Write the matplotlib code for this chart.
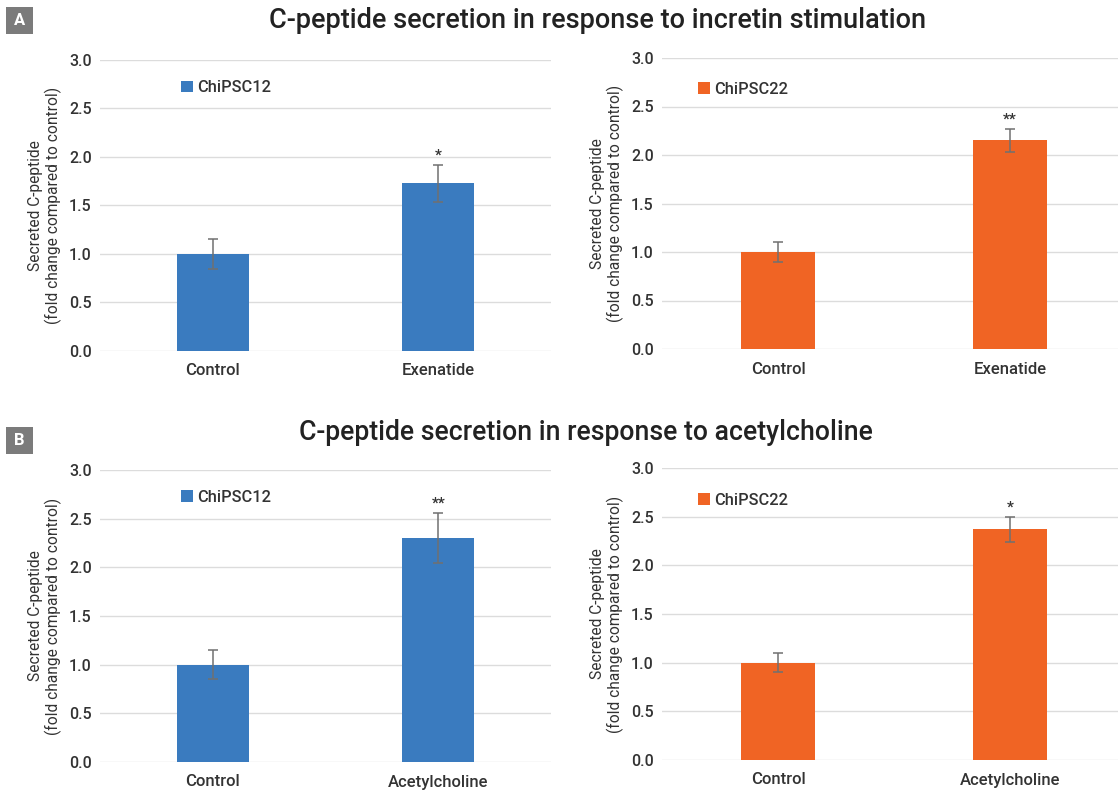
import matplotlib
matplotlib.use("Agg")
import matplotlib.pyplot as plt
from matplotlib.patches import Rectangle

plt.rcParams["font.family"] = ["Roboto", "DejaVu Sans"]

# data
cats_incretin = ["Control", "Exenatide"]
cats_ach = ["Control", "Acetylcholine"]

chipsc12_incretin = [1.0, 1.73]
chipsc12_incretin_err = [0.15, 0.19]
chipsc22_incretin = [1.0, 2.15]
chipsc22_incretin_err = [0.10, 0.12]

chipsc12_ach = [1.0, 2.30]
chipsc12_ach_err = [0.15, 0.26]
chipsc22_ach = [1.0, 2.37]
chipsc22_ach_err = [0.10, 0.13]

stars_12_incretin = ["", "*"]
stars_22_incretin = ["", "**"]
stars_12_ach = ["", "**"]
stars_22_ach = ["", "*"]

yticks = [0.0, 0.5, 1.0, 1.5, 2.0, 2.5, 3.0]

BLUE = "#3a7bbf"
ORANGE = "#f06424"
TEXT = "#333333"
GRID = "#dcdcdc"

W, H = 1118, 794
fig = plt.figure(figsize=(W / 100, H / 100), dpi=100)


def px_axes(left, right, top, bottom):
    return fig.add_axes([left / W, 1 - bottom / H, (right - left) / W, (bottom - top) / H])


def draw_panel(ax, cats, vals, errs, stars, color, label, leg_xy):
    x = list(range(len(cats)))
    bars = ax.bar(x, vals, width=0.32, color=color, label=label, zorder=2)
    ax.errorbar(x, vals, yerr=errs, fmt="none", ecolor="#707070",
                elinewidth=1.1, capsize=3.5, capthick=1.1, zorder=3)
    for xi, v, e, s in zip(x, vals, errs, stars):
        if s:
            ax.text(xi, v + e + 0.02, s, ha="center", va="bottom",
                    fontsize=11, fontweight="bold", color=TEXT)
    ax.set_xlim(-0.5, 1.5)
    ax.set_ylim(0, 3.0)
    ax.set_yticks(yticks)
    ax.set_yticklabels([f"{t:.1f}" for t in yticks])
    ax.set_xticks(x)
    ax.set_xticklabels(cats)
    ax.grid(axis="y", color=GRID, linewidth=1.0, zorder=0)
    ax.set_axisbelow(True)
    for sp in ax.spines.values():
        sp.set_visible(False)
    ax.tick_params(axis="y", length=0, pad=6, labelsize=11.5, labelcolor=TEXT)
    ax.tick_params(axis="x", length=0, pad=9, labelsize=12, labelcolor=TEXT)
    for t in ax.get_yticklabels() + ax.get_xticklabels():
        t.set_fontweight("medium")
    ax.set_ylabel("Secreted C-peptide\n(fold change compared to control)",
                  fontsize=11.2, color=TEXT, labelpad=5, linespacing=1.1)
    leg = ax.legend(handles=[bars], loc="center left", bbox_to_anchor=leg_xy,
                    frameon=False, fontsize=11.8, handlelength=0.7, handleheight=0.7,
                    handletextpad=0.3, borderpad=0, borderaxespad=0,
                    labelcolor=TEXT)
    for t in leg.get_texts():
        t.set_fontweight("medium")


ax_tl = px_axes(100, 551, 60, 351)
ax_tr = px_axes(662, 1126, 58, 349)
ax_bl = px_axes(100, 551, 470, 762)
ax_br = px_axes(662, 1126, 468, 760)

draw_panel(ax_tl, cats_incretin, chipsc12_incretin, chipsc12_incretin_err,
           stars_12_incretin, BLUE, "ChiPSC12", (0.18, 0.905))
draw_panel(ax_tr, cats_incretin, chipsc22_incretin, chipsc22_incretin_err,
           stars_22_incretin, ORANGE, "ChiPSC22", (0.078, 0.893))
draw_panel(ax_bl, cats_ach, chipsc12_ach, chipsc12_ach_err,
           stars_12_ach, BLUE, "ChiPSC12", (0.18, 0.907))
draw_panel(ax_br, cats_ach, chipsc22_ach, chipsc22_ach_err,
           stars_22_ach, ORANGE, "ChiPSC22", (0.078, 0.89))

# titles
fig.text(598 / W, 1 - 20 / H, "C-peptide secretion in response to incretin stimulation",
         ha="center", va="center", fontsize=19.5, fontweight="medium", color="#222222")
fig.text(586 / W, 1 - 432 / H, "C-peptide secretion in response to acetylcholine",
         ha="center", va="center", fontsize=19.2, fontweight="medium", color="#222222")

# panel letters
for letter, top in [("A", 7), ("B", 427)]:
    fig.patches.append(Rectangle((6 / W, 1 - (top + 27) / H), 27 / W, 27 / H,
                                 transform=fig.transFigure, facecolor="#7b7b7b",
                                 edgecolor="none"))
    fig.text(19.5 / W, 1 - (top + 13.5) / H, letter, ha="center", va="center",
             fontsize=12, fontweight="bold", color="white")

fig.savefig("out.png", dpi=100)
